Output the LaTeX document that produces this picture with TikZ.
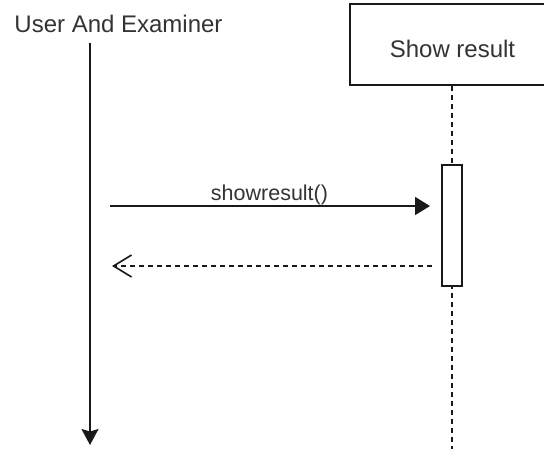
\documentclass[tikz,border=0pt]{standalone}
\usepackage{fontspec}
\setmainfont{Liberation Sans}
\usetikzlibrary{arrows.meta}
\begin{document}
\begin{tikzpicture}[x=1pt,y=-1pt,
  lbl/.style={inner sep=0pt, anchor=base, text=black!80, font=\fontsize{24}{27}\selectfont},
  msglbl/.style={inner sep=0pt, anchor=base, text=black!80, font=\fontsize{21.5}{24}\selectfont},
  ln/.style={line width=1.6pt, black!90},
  dashln/.style={line width=1.6pt, black!90, dash pattern=on 5pt off 4pt},
  solidtip/.style={-{Triangle[length=15pt,width=18pt]}},
  downtip/.style={-{Stealth[length=16pt,width=17pt,inset=2.5pt]}},
  opentip/.style={-{Straight Barb[length=18pt,width=22pt,line width=1.6pt]}},
  box/.style={draw, line width=1.6pt, black!90, fill=white}
]
\useasboundingbox (0,0) rectangle (544,448);
\clip (0,0) rectangle (544,448);
% actor
\node[lbl] (user) at (118.5,32) {User And Examiner};
\coordinate (utop) at (90,43);
\coordinate (ubot) at (90,445);
\draw[ln,downtip] (utop) -- (ubot);
% object box
\node[box, minimum width=204pt, minimum height=81pt, inner sep=0pt] (show) at (452,44.5) {};
\node[lbl] (showtxt) at (452.5,57) {Show result};
% lifeline
\coordinate (lbot) at (452,452);
\draw[dashln] (show.south) -- (lbot);
% activation
\node[box, minimum width=20pt, minimum height=121pt, inner sep=0pt] (act) at (452,225.5) {};
% call message
\coordinate (c1) at (110,206);
\coordinate (c2) at (430,206);
\draw[ln,solidtip] (c1) -- (c2);
\node[msglbl] (calltxt) at (269.5,200) {showresult()};
% return message
\coordinate (r1) at (432,266);
\coordinate (r2) at (112,266);
\draw[dashln,opentip] (r1) -- (r2);
\end{tikzpicture}
\end{document}
